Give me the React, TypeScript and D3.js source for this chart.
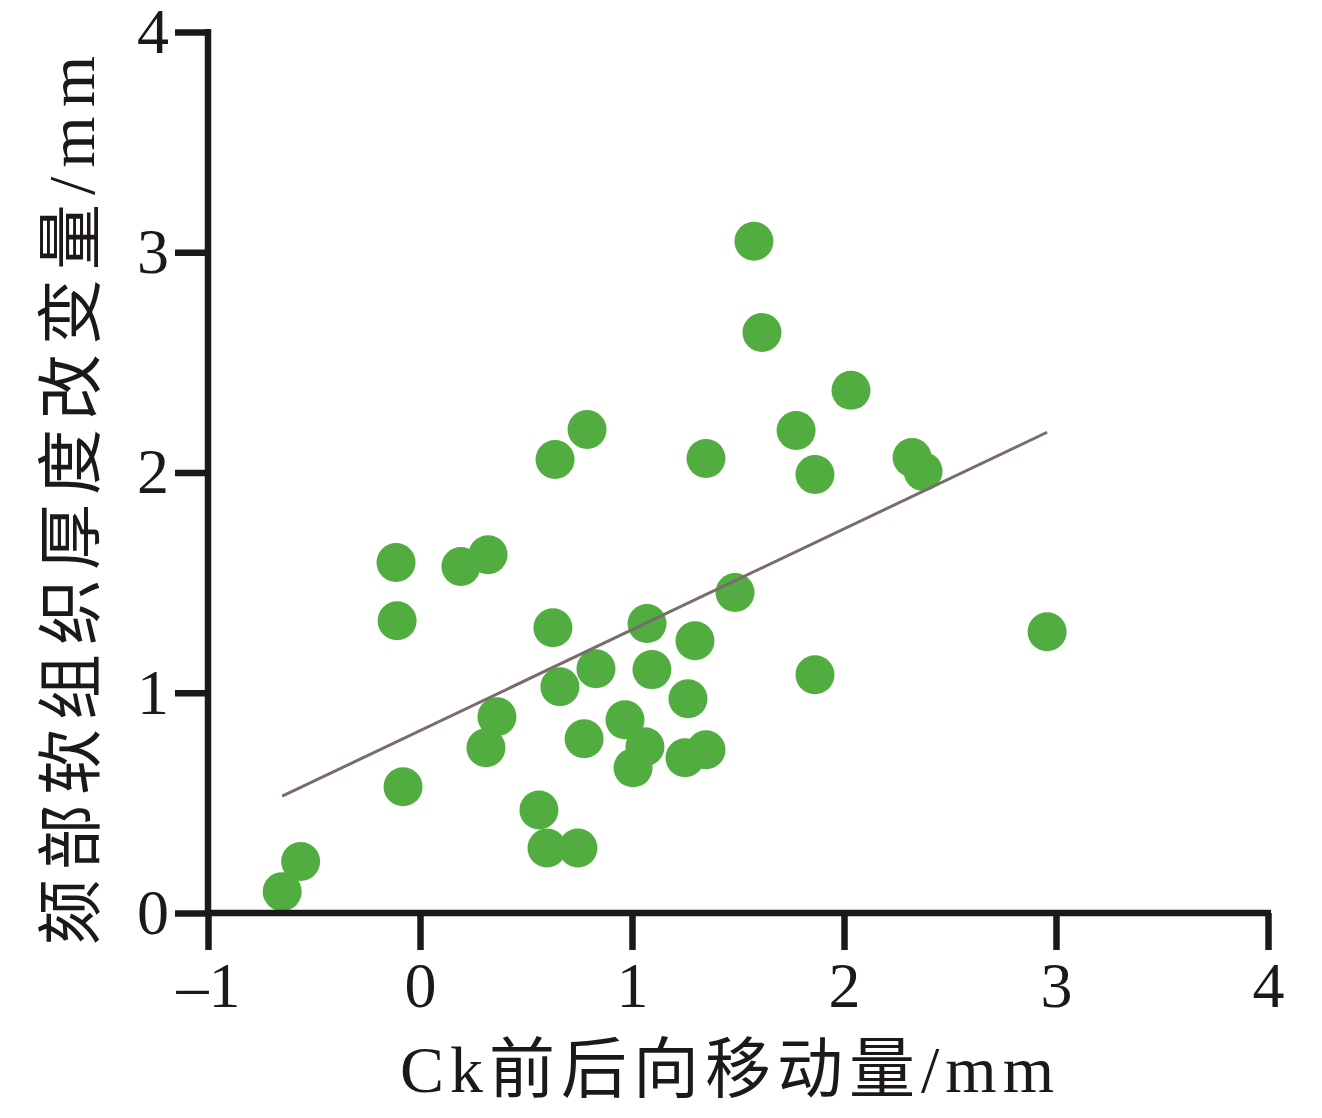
import { useEffect, useRef } from 'react';
import * as d3 from 'd3';

// Ck antero-posterior movement (mm)
const xVals = [
  -0.65, -0.563, -0.113, -0.108, -0.08, 0.193, 0.321, 0.363, 0.311, 0.561,
  0.599, 0.745, 0.627, 0.637, 0.66, 0.788, 0.774, 0.83, 0.967, 1.005,
  1.061, 1.071, 1.094, 1.264, 1.297, 1.25, 1.349, 1.349, 1.486, 1.575,
  1.613, 1.774, 1.863, 1.863, 2.033, 2.321, 2.373, 2.958,
];
// chin soft tissue thickness change (mm)
const yVals = [
  0.097, 0.234, 1.591, 1.327, 0.573, 1.573, 1.627, 0.891, 0.75, 0.468,
  0.295, 0.295, 1.295, 2.059, 1.027, 2.195, 0.791, 1.109, 0.877, 0.659,
  0.755, 1.314, 1.105, 0.973, 1.236, 0.705, 0.741, 2.064, 1.455, 3.05,
  2.636, 2.191, 1.991, 1.082, 2.373, 2.068, 2.005, 1.277,
];

const xTicks = [-1, 0, 1, 2, 3, 4];
const yTicks = [0, 1, 2, 3, 4];
const fitSlope = 0.458;
const fitIntercept = 0.828;

const xTitle = 'Ck前后向移动量/mm';
const yTitle = '颏部软组织厚度改变量/mm';

export default function App() {
  const svgRef = useRef<SVGSVGElement>(null);

  useEffect(() => {
    if (!svgRef.current) return;
    const width = 1322;
    const height = 1118;
    const svg = d3.select(svgRef.current);
    svg.selectAll('*').remove();
    svg.attr('width', width).attr('height', height);

    const axisColor = '#1c1917';
    const serif = '"Liberation Serif", "Noto Sans CJK SC", serif';
    const fmt = (d: d3.NumberValue) => (Number(d) < 0 ? `\u2013${Math.abs(Number(d))}` : `${d}`);

    const x = d3.scaleLinear().domain([-1, 4]).range([208, 1268]);
    const y = d3.scaleLinear().domain([0, 4]).range([913, 32]);

    const points = xVals.map((v, i) => ({ x: v, y: yVals[i] }));

    // Points
    svg.append('g')
      .selectAll('circle')
      .data(points)
      .enter()
      .append('circle')
      .attr('cx', (d) => x(d.x))
      .attr('cy', (d) => y(d.y))
      .attr('r', 19.5)
      .attr('fill', '#52ad40');

    // Fit line
    const xMin = d3.min(xVals) ?? 0;
    const xMax = d3.max(xVals) ?? 0;
    const line = d3.line<number>()
      .x((d) => x(d))
      .y((d) => y(fitSlope * d + fitIntercept));
    svg.append('path')
      .datum([xMin, xMax])
      .attr('d', line)
      .attr('fill', 'none')
      .attr('stroke', '#7a6c6c')
      .attr('stroke-width', 3);

    // X axis
    svg.append('g')
      .attr('transform', `translate(0,${y(0)})`)
      .call(d3.axisBottom(x).tickValues(xTicks).tickSize(37).tickSizeOuter(0).tickPadding(12).tickFormat(fmt))
      .call((gg) => {
        gg.select('.domain').remove();
        gg.selectAll('.tick line').attr('stroke', axisColor).attr('stroke-width', 6.5);
        gg.selectAll('.tick text')
          .attr('fill', axisColor)
          .attr('font-family', serif)
          .attr('font-size', 64);
      });

    // Y axis
    svg.append('g')
      .attr('transform', `translate(${x(-1)},0)`)
      .call(d3.axisLeft(y).tickValues(yTicks).tickSize(33).tickSizeOuter(0).tickPadding(6).tickFormat(fmt))
      .call((gg) => {
        gg.select('.domain').remove();
        gg.selectAll('.tick line').attr('stroke', axisColor).attr('stroke-width', 6.5);
        gg.selectAll('.tick text')
          .attr('fill', axisColor)
          .attr('font-family', serif)
          .attr('font-size', 64);
      });

    // Axis lines
    svg.append('line')
      .attr('x1', x(-1)).attr('x2', x(4) + 3)
      .attr('y1', y(0)).attr('y2', y(0))
      .attr('stroke', axisColor).attr('stroke-width', 6.5);
    svg.append('line')
      .attr('x1', x(-1)).attr('x2', x(-1))
      .attr('y1', y(4) - 3).attr('y2', y(0))
      .attr('stroke', axisColor).attr('stroke-width', 6.5);

    // Axis titles
    svg.append('text')
      .attr('x', 730)
      .attr('y', 1092)
      .attr('text-anchor', 'middle')
      .attr('fill', axisColor)
      .attr('font-family', serif)
      .attr('font-size', 66)
      .attr('letter-spacing', 6)
      .text(xTitle);

    svg.append('text')
      .attr('transform', `translate(94,${496}) rotate(-90)`)
      .attr('text-anchor', 'middle')
      .attr('fill', axisColor)
      .attr('font-family', serif)
      .attr('font-size', 66)
      .attr('letter-spacing', 9)
      .text(yTitle);
  }, []);

  return (
    <div style={{ position: 'absolute', left: 0, top: 0, background: '#fff' }}>
      <svg ref={svgRef} style={{ display: 'block' }} />
    </div>
  );
}
